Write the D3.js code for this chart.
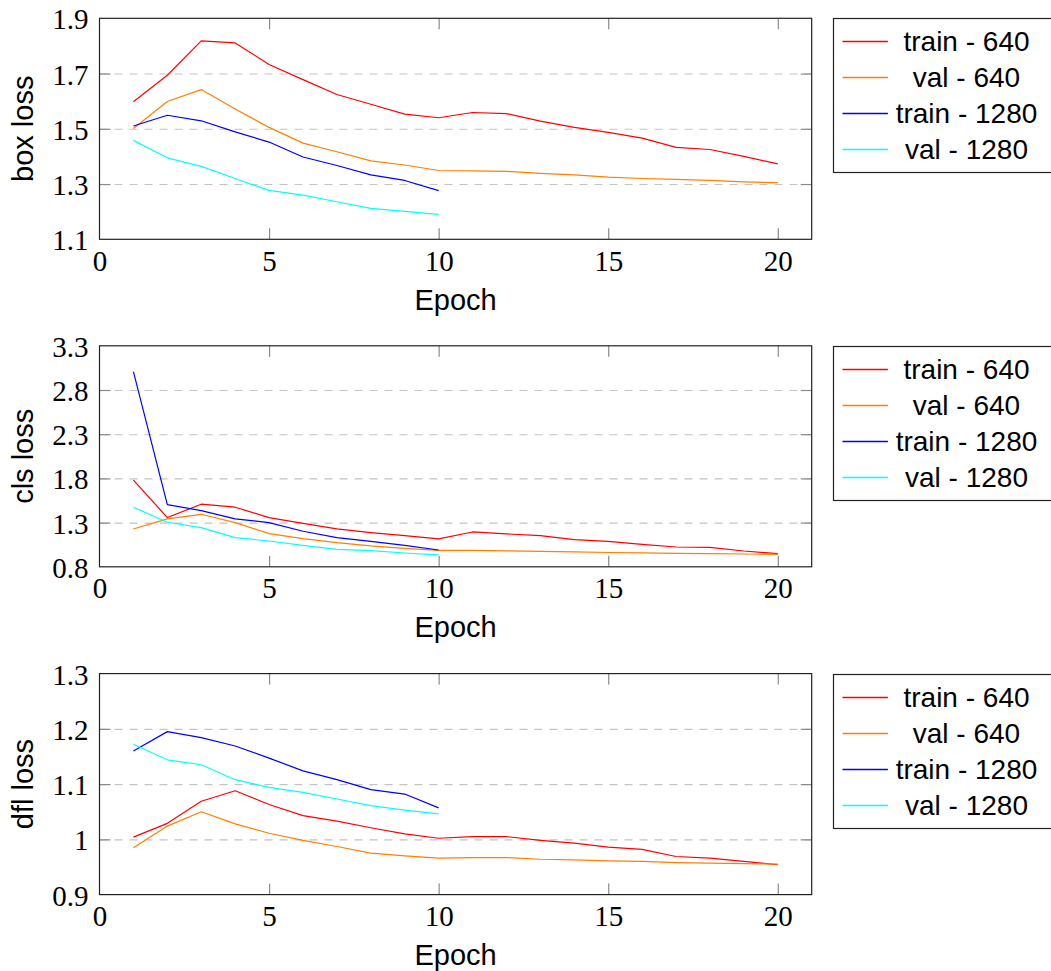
<!DOCTYPE html>
<html>
<head>
<meta charset="utf-8">
<script src="https://cdn.jsdelivr.net/npm/d3@7"></script>
<style>
  html, body { margin: 0; padding: 0; background: #fff; }
  svg { display: block; }
</style>
</head>
<body>
<svg id="chart" width="1051" height="971"></svg>
<script>
// Epoch indices for the two runs
const epochs640 = [1, 2, 3, 4, 5, 6, 7, 8, 9, 10, 11, 12, 13, 14, 15, 16, 17, 18, 19, 20];
const epochs1280 = [1, 2, 3, 4, 5, 6, 7, 8, 9, 10];

// Box loss
const boxTrain640 = [1.598, 1.694, 1.818, 1.811, 1.733, 1.678, 1.624, 1.589, 1.553, 1.540, 1.559, 1.555, 1.528, 1.505, 1.487, 1.466, 1.433, 1.425, 1.400, 1.373];
const boxVal640 = [1.501, 1.599, 1.642, 1.572, 1.505, 1.448, 1.417, 1.384, 1.369, 1.349, 1.348, 1.346, 1.339, 1.333, 1.325, 1.320, 1.317, 1.313, 1.308, 1.305];
const boxTrain1280 = [1.510, 1.549, 1.529, 1.489, 1.452, 1.398, 1.367, 1.333, 1.313, 1.276];
const boxVal1280 = [1.458, 1.395, 1.364, 1.320, 1.277, 1.260, 1.236, 1.212, 1.201, 1.190];

// Classification loss
const clsTrain640 = [1.780, 1.357, 1.508, 1.474, 1.357, 1.292, 1.228, 1.187, 1.153, 1.115, 1.194, 1.172, 1.153, 1.107, 1.088, 1.054, 1.024, 1.020, 0.979, 0.949];
const clsVal640 = [1.228, 1.342, 1.394, 1.300, 1.175, 1.119, 1.073, 1.036, 1.009, 0.986, 0.985, 0.980, 0.975, 0.968, 0.962, 0.958, 0.952, 0.948, 0.945, 0.940];
const clsTrain1280 = [3.008, 1.504, 1.436, 1.342, 1.300, 1.202, 1.130, 1.088, 1.043, 0.990];
const clsVal1280 = [1.474, 1.304, 1.243, 1.130, 1.092, 1.043, 0.998, 0.983, 0.956, 0.934];

// Distribution focal loss
const dflTrain640 = [1.004, 1.029, 1.069, 1.088, 1.063, 1.043, 1.033, 1.021, 1.010, 1.002, 1.005, 1.005, 0.998, 0.993, 0.986, 0.982, 0.969, 0.966, 0.960, 0.954];
const dflVal640 = [0.985, 1.024, 1.050, 1.028, 1.011, 0.998, 0.987, 0.975, 0.970, 0.966, 0.967, 0.967, 0.964, 0.963, 0.961, 0.960, 0.958, 0.957, 0.956, 0.955];
const dflTrain1280 = [1.160, 1.195, 1.184, 1.169, 1.147, 1.124, 1.108, 1.090, 1.082, 1.057];
const dflVal1280 = [1.172, 1.144, 1.135, 1.108, 1.094, 1.085, 1.073, 1.061, 1.053, 1.046];

// Axis ticks
const xTicks = [0, 5, 10, 15, 20];
const boxTicks = [1.1, 1.3, 1.5, 1.7, 1.9];
const clsTicks = [0.8, 1.3, 1.8, 2.3, 2.8, 3.3];
const dflTicks = [0.9, 1.0, 1.1, 1.2, 1.3];
const dflTickLabels = ["0.9", "1", "1.1", "1.2", "1.3"];

const seriesNames = ["train - 640", "val - 640", "train - 1280", "val - 1280"];
const seriesColors = ["#ff0000", "#ff8000", "#0000ff", "#00ffff"];

const panels = [
  { label: "box loss", ticks: boxTicks, tickLabels: boxTicks.map(d => d.toFixed(1)),
    series: [[epochs640, boxTrain640], [epochs640, boxVal640], [epochs1280, boxTrain1280], [epochs1280, boxVal1280]] },
  { label: "cls loss", ticks: clsTicks, tickLabels: clsTicks.map(d => d.toFixed(1)),
    series: [[epochs640, clsTrain640], [epochs640, clsVal640], [epochs1280, clsTrain1280], [epochs1280, clsVal1280]] },
  { label: "dfl loss", ticks: dflTicks, tickLabels: dflTickLabels,
    series: [[epochs640, dflTrain640], [epochs640, dflVal640], [epochs1280, dflTrain1280], [epochs1280, dflVal1280]] }
];

const svg = d3.select("#chart");
const left = 99.5, right = 811.7;
const plotW = right - left, plotH = 221;
const tops = [18.3, 345.8, 673.6];
const serif = "'Liberation Serif', 'Times New Roman', serif";
const sans = "'Liberation Sans', Arial, Helvetica, sans-serif";
const tickLen = 11;
const tickColor = "#8a8a8a";

const x = d3.scaleLinear().domain([0, 21]).range([0, plotW]);

panels.forEach((p, i) => {
  const g = svg.append("g").attr("transform", `translate(${left},${tops[i]})`);
  const y = d3.scaleLinear().domain([p.ticks[0], p.ticks[p.ticks.length - 1]]).range([plotH, 0]);
  const inner = p.ticks.slice(1, -1);

  // dashed horizontal grid
  const grid = g.append("g").call(d3.axisLeft(y).tickValues(inner).tickSize(-plotW).tickFormat(""));
  grid.select(".domain").remove();
  grid.selectAll(".tick line").attr("stroke", "#c4c4c4").attr("stroke-width", 1.1).attr("stroke-dasharray", "8,7");

  // inner tick marks on all four sides
  const tl = g.append("g").call(d3.axisLeft(y).tickValues(inner).tickSize(-tickLen).tickFormat(""));
  const tr = g.append("g").attr("transform", `translate(${plotW},0)`).call(d3.axisRight(y).tickValues(inner).tickSize(-tickLen).tickFormat(""));
  const tb = g.append("g").attr("transform", `translate(0,${plotH})`).call(d3.axisBottom(x).tickValues(xTicks.slice(1)).tickSize(-tickLen).tickFormat(""));
  const tt = g.append("g").call(d3.axisTop(x).tickValues(xTicks.slice(1)).tickSize(-tickLen).tickFormat(""));
  [tl, tr, tb, tt].forEach(a => {
    a.select(".domain").remove();
    a.selectAll(".tick line").attr("stroke", tickColor).attr("stroke-width", 1.2);
  });

  // y tick labels
  const yl = g.append("g").call(d3.axisLeft(y).tickValues(p.ticks).tickSize(0).tickPadding(11)
    .tickFormat((d, k) => p.tickLabels[k]));
  yl.select(".domain").remove();
  yl.selectAll(".tick text").attr("font-family", serif).attr("font-size", 29).attr("fill", "#000")
    .attr("dy", null).attr("y", 10.5);

  // x tick labels
  const xl = g.append("g").attr("transform", `translate(0,${plotH})`)
    .call(d3.axisBottom(x).tickValues(xTicks).tickSize(0).tickFormat(d3.format("d")));
  xl.select(".domain").remove();
  xl.selectAll(".tick text").attr("font-family", serif).attr("font-size", 29).attr("fill", "#000")
    .attr("dy", null).attr("y", 31.5);

  // data lines
  const line = d3.line().x(d => x(d[0])).y(d => y(d[1]));
  p.series.forEach((s, k) => {
    const pts = s[0].map((e, j) => [e, s[1][j]]);
    g.append("path").datum(pts).attr("d", line)
      .attr("fill", "none").attr("stroke", seriesColors[k]).attr("stroke-width", 1.2)
      .attr("stroke-linejoin", "round");
  });

  // frame
  g.append("rect").attr("width", plotW).attr("height", plotH)
    .attr("fill", "none").attr("stroke", "#222").attr("stroke-width", 1.2);

  // axis titles
  g.append("text").attr("x", plotW / 2).attr("y", plotH + 70.5)
    .attr("text-anchor", "middle").attr("font-family", sans).attr("font-size", 29).attr("fill", "#000")
    .text("Epoch");
  g.append("text").attr("transform", `translate(${33.3 - left},${plotH / 2}) rotate(-90)`)
    .attr("text-anchor", "middle").attr("font-family", sans).attr("font-size", 29).attr("fill", "#000")
    .text(p.label);

  // legend
  const lgTop = Math.round(tops[i]) + 0.5;
  const lg = svg.append("g").attr("transform", `translate(833.5,${lgTop})`);
  lg.append("rect").attr("width", 240).attr("height", 154)
    .attr("fill", "#fff").attr("stroke", "#222").attr("stroke-width", 1.2);
  seriesNames.forEach((name, k) => {
    const ry = Math.round(23.3 + k * 35.9);
    lg.append("line").attr("x1", 9).attr("x2", 54.4).attr("y1", ry).attr("y2", ry)
      .attr("stroke", seriesColors[k]).attr("stroke-width", 1.3);
    lg.append("text").attr("x", 133).attr("y", ry + 9)
      .attr("text-anchor", "middle").attr("font-family", sans).attr("font-size", 28).attr("fill", "#000")
      .text(name);
  });
});
</script>
</body>
</html>
